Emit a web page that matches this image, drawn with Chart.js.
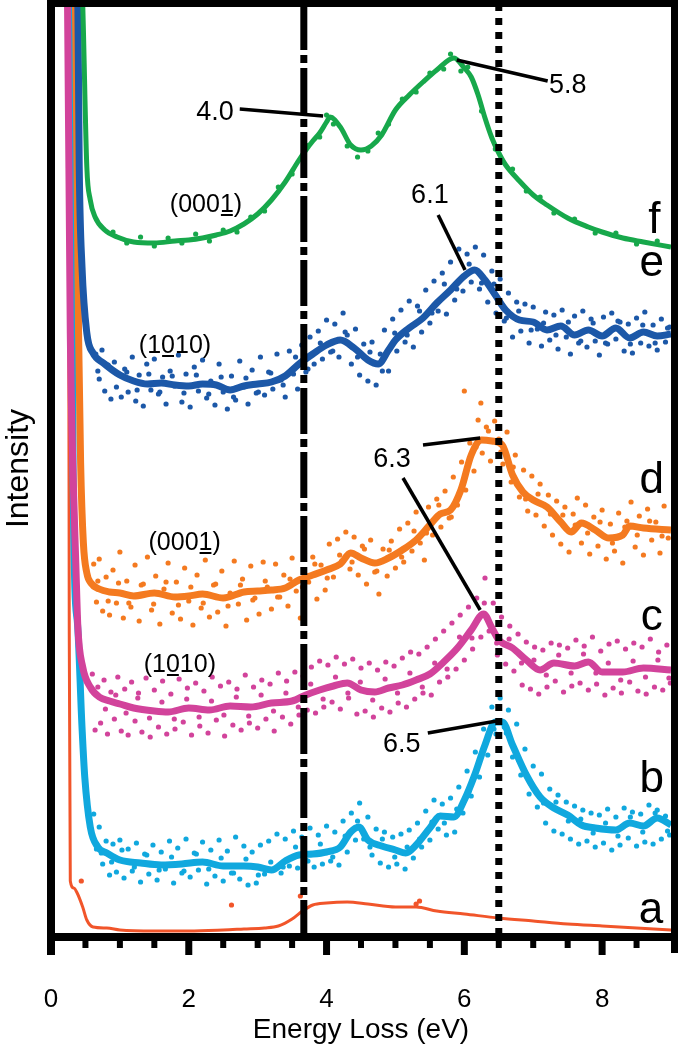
<!DOCTYPE html>
<html>
<head>
<meta charset="utf-8">
<script src="https://cdn.jsdelivr.net/npm/chart.js@4.4.1/dist/chart.umd.min.js"></script>
<style>
  html, body { margin: 0; padding: 0; background: #fff; }
  canvas { display: block; }
</style>
</head>
<body>
<canvas id="elsChart" width="678" height="1050"></canvas>
<script>
// ---- data (energy in eV, intensity in arbitrary offset units) ----
const xTicksMajor = [0, 2, 4, 6, 8];
const xTicksMinor = [0.5, 1, 1.5, 2.5, 3, 3.5, 4.5, 5, 5.5, 6.5, 7, 7.5, 8.5];
const referenceLines = [3.67, 6.5];

// f: green (0001)
const fE = [0.42,0.46,0.52,0.57,0.64,0.78,0.96,1.2,1.5,1.8,2.0,2.2,2.4,2.6,2.8,3.0,3.2,3.4,3.6,3.7,3.8,3.9,4.0,4.05,4.2,4.35,4.5,4.65,4.8,5.0,5.2,5.4,5.6,5.85,6.0,6.1,6.2,6.3,6.4,6.5,6.6,6.8,7.0,7.2,7.5,7.8,8.0,8.3,8.6,9.0];
const fI = [100,93,76.6,73.3,71.6,70.3,69.6,69.1,69.0,69.2,69.3,69.5,69.8,70.2,70.9,71.9,73.3,75.1,77.3,78.3,79.2,80.0,81.1,81.6,80.6,78.8,78.3,78.7,79.8,82.3,83.8,85.1,86.3,87.5,86.5,85.6,83.8,81.5,79.5,78.0,76.8,75.2,73.8,72.8,71.5,70.6,70.1,69.5,69.1,68.6];
const fDots = [[0.9,70.1],[1.1,69.0],[1.3,69.6],[1.5,68.7],[1.7,69.5],[1.9,69.0],[2.1,69.9],[2.3,69.2],[2.5,70.3],[2.7,70.1],[2.9,71.6],[3.1,72.2],[3.3,74.6],[3.5,75.9],[3.7,78.8],[3.9,79.6],[4.0,81.8],[4.1,80.9],[4.3,78.7],[4.45,77.6],[4.6,78.2],[4.75,80.0],[4.9,80.9],[5.1,83.4],[5.3,84.1],[5.5,86.0],[5.7,86.4],[5.8,87.9],[5.95,86.2],[6.05,86.6],[6.25,82.2],[6.45,78.4],[6.7,76.4],[6.9,74.2],[7.1,73.6],[7.3,72.0],[7.6,71.4],[7.9,70.0],[8.2,70.0],[8.5,68.9],[8.8,69.2]];

// e: blue (1010)
const eE = [0.37,0.39,0.41,0.45,0.52,0.61,0.76,1.0,1.2,1.4,1.6,1.8,2.0,2.2,2.4,2.6,2.8,3.0,3.2,3.4,3.6,3.8,4.0,4.2,4.4,4.6,4.75,4.9,5.0,5.2,5.4,5.6,5.8,6.0,6.15,6.3,6.45,6.6,6.8,7.0,7.2,7.4,7.6,7.8,8.0,8.2,8.4,8.6,8.8,9.0];
const eI = [100,93,76.6,66.6,60.0,58.0,57.0,55.8,55.2,54.9,55.0,54.8,54.7,54.9,54.8,54.3,54.7,54.9,55.1,55.7,56.9,57.9,58.8,59.3,58.5,57.3,56.9,58.3,59.3,60.5,61.5,63.0,64.3,65.7,66.3,65.3,63.8,62.3,61.3,61.1,60.3,60.7,59.8,60.3,59.7,60.5,59.5,60.1,59.7,59.9];
const eDots = [[0.65,57.9],[0.7,55.4],[0.74,58.3],[0.78,54.2],[0.83,56.8],[0.87,53.4],[0.92,57.1],[0.97,55.9],[1.02,53.6],[1.07,56.4],[1.12,54.1],[1.18,57.6],[1.23,53.2],[1.28,55.8],[1.34,52.7],[1.39,56.9],[1.45,54.3],[1.5,57.4],[1.56,53.9],[1.62,55.6],[1.67,52.9],[1.73,56.2],[1.79,54.7],[1.85,57.8],[1.9,53.1],[1.96,55.9],[2.02,52.6],[2.08,56.6],[2.14,54.2],[2.2,57.3],[2.26,53.5],[2.32,55.2],[2.38,52.8],[2.44,56.9],[2.5,54.1],[2.56,52.4],[2.62,55.7],[2.68,53.3],[2.74,57.2],[2.8,54.6],[2.86,52.9],[2.92,56.3],[2.98,54.0],[3.04,57.6],[3.1,53.8],[3.16,56.1],[3.22,54.4],[3.28,57.9],[3.34,55.3],[3.4,53.6],[3.46,58.2],[3.52,55.9],[3.58,54.4],[3.64,58.8],[3.7,56.1],[3.76,59.6],[3.82,56.9],[3.88,60.2],[3.94,57.4],[4.0,61.3],[4.06,58.1],[4.12,60.9],[4.18,57.6],[4.24,62.0],[4.3,59.8],[4.36,56.9],[4.42,60.4],[4.48,55.8],[4.54,58.9],[4.6,55.2],[4.66,59.1],[4.72,54.8],[4.78,57.9],[4.84,60.3],[4.9,56.2],[4.96,61.4],[5.02,58.2],[5.08,62.3],[5.14,59.1],[5.2,63.2],[5.26,58.6],[5.32,62.7],[5.38,60.1],[5.44,64.3],[5.5,61.0],[5.56,65.2],[5.62,62.2],[5.68,66.0],[5.74,61.9],[5.8,67.1],[5.86,63.3],[5.92,68.4],[5.98,64.2],[6.04,67.9],[6.1,65.1],[6.16,68.6],[6.22,64.4],[6.28,67.8],[6.34,63.1],[6.4,66.2],[6.46,62.0],[6.52,65.4],[6.58,61.2],[6.64,64.0],[6.7,59.6],[6.76,63.1],[6.82,60.2],[6.88,62.9],[6.94,59.0],[7.0,62.6],[7.06,60.4],[7.12,58.7],[7.18,62.1],[7.24,59.3],[7.3,61.8],[7.36,58.4],[7.42,62.3],[7.48,59.6],[7.54,57.9],[7.6,61.7],[7.66,59.0],[7.72,62.2],[7.78,58.6],[7.84,61.4],[7.9,59.2],[7.96,57.8],[8.02,61.6],[8.08,58.9],[8.14,62.0],[8.2,59.4],[8.26,61.1],[8.32,58.2],[8.38,60.9],[8.44,58.0],[8.5,61.5],[8.56,59.0],[8.62,62.1],[8.68,58.7],[8.74,60.8],[8.8,58.3],[8.86,61.4],[8.92,59.1],[8.98,60.6]];
const eDotsNear = [[0.68,56.2],[0.8,56.9],[0.95,54.6],[1.1,56.1],[1.25,54.3],[1.42,55.9],[1.58,54.1],[1.76,55.7],[1.93,54.0],[2.11,55.8],[2.29,53.9],[2.47,55.6],[2.65,53.6],[2.83,55.5],[3.01,54.1],[3.19,56.0],[3.37,54.8],[3.55,57.6],[3.73,56.4],[3.91,59.0],[4.09,58.2],[4.27,60.1],[4.45,57.6],[4.63,58.1],[4.81,56.2],[4.99,60.0],[5.17,59.8],[5.35,62.2],[5.53,62.0],[5.71,64.9],[5.89,64.4],[6.07,66.9],[6.25,65.0],[6.43,64.9],[6.61,61.5],[6.79,62.2],[6.97,60.3],[7.15,61.0],[7.33,59.8],[7.51,61.1],[7.69,59.2],[7.87,61.0],[8.05,59.0],[8.23,61.2],[8.41,58.9],[8.59,60.8],[8.77,59.0],[8.95,60.5]];

// d: orange (0001)
const dE = [0.34,0.36,0.4,0.43,0.47,0.52,0.58,0.7,0.85,1.0,1.2,1.5,1.8,2.0,2.2,2.5,2.8,3.0,3.2,3.4,3.6,3.8,4.0,4.2,4.35,4.5,4.7,4.9,5.1,5.3,5.5,5.65,5.8,5.95,6.1,6.25,6.4,6.55,6.7,6.85,7.0,7.2,7.4,7.55,7.7,7.9,8.1,8.3,8.4,8.6,9.0];
const dI = [100,90,60,47,39,36.0,35.0,34.4,34.1,34.0,33.7,34.0,33.6,33.7,33.9,33.5,34.1,34.2,34.3,34.5,35.3,35.8,36.3,36.9,38.0,37.5,37.0,37.5,38.3,39.3,40.8,41.9,42.3,44.3,47.8,49.3,49.2,48.8,45.8,44.1,43.3,42.6,41.1,40.1,41.0,40.3,39.5,39.8,40.7,40.5,40.3];
const dDots = [[0.62,36.9],[0.66,33.1],[0.7,37.4],[0.75,32.2],[0.8,35.6],[0.85,31.8],[0.9,36.3],[0.95,33.0],[1.0,38.1],[1.05,31.5],[1.1,35.2],[1.16,32.6],[1.22,36.8],[1.28,31.2],[1.34,34.9],[1.4,37.6],[1.46,32.3],[1.52,35.7],[1.58,30.9],[1.64,34.4],[1.7,37.0],[1.76,32.0],[1.82,35.1],[1.88,31.4],[1.94,36.5],[2.0,33.2],[2.06,30.8],[2.12,35.8],[2.18,32.5],[2.24,37.3],[2.3,31.6],[2.36,34.8],[2.42,32.1],[2.48,36.2],[2.54,30.7],[2.6,34.0],[2.66,37.2],[2.72,32.9],[2.78,35.4],[2.84,31.3],[2.9,36.7],[2.96,33.5],[3.02,31.9],[3.08,37.1],[3.14,34.6],[3.2,32.4],[3.26,36.9],[3.32,33.6],[3.38,35.8],[3.44,32.7],[3.5,37.5],[3.56,34.2],[3.62,31.5],[3.68,38.0],[3.74,35.1],[3.8,37.6],[3.86,33.4],[3.92,36.8],[3.98,34.3],[4.04,38.9],[4.1,35.6],[4.16,39.4],[4.22,37.2],[4.28,40.1],[4.34,36.4],[4.4,39.6],[4.46,35.8],[4.52,38.7],[4.58,34.9],[4.64,39.3],[4.7,36.1],[4.76,33.9],[4.82,38.4],[4.88,35.7],[4.94,39.2],[5.0,36.5],[5.06,40.4],[5.12,37.1],[5.18,41.0],[5.24,38.2],[5.3,42.1],[5.36,39.0],[5.42,37.3],[5.48,42.6],[5.54,39.8],[5.6,43.4],[5.66,40.6],[5.72,44.2],[5.78,41.5],[5.84,45.6],[5.9,42.8],[5.96,47.1],[6.0,54.2],[6.02,44.3],[6.08,49.0],[6.14,46.2],[6.2,51.3],[6.24,53.0],[6.26,48.0],[6.32,50.6],[6.38,47.2],[6.44,51.2],[6.5,49.4],[6.56,46.9],[6.62,50.1],[6.68,45.1],[6.74,47.8],[6.8,43.6],[6.86,46.3],[6.92,42.2],[6.98,45.7],[7.04,41.8],[7.1,44.9],[7.16,40.7],[7.22,43.8],[7.28,39.8],[7.34,43.2],[7.4,38.9],[7.46,42.6],[7.52,38.1],[7.58,41.9],[7.64,43.5],[7.7,39.0],[7.76,42.8],[7.82,37.9],[7.88,41.6],[7.94,38.7],[8.0,42.3],[8.06,37.4],[8.12,40.9],[8.18,38.2],[8.24,42.0],[8.3,37.0],[8.36,41.2],[8.42,43.1],[8.48,38.6],[8.54,41.7],[8.6,37.8],[8.66,42.4],[8.72,39.3],[8.78,41.1],[8.84,38.0],[8.9,42.7],[8.96,39.5]];
const dDotsNear = [[0.68,35.2],[0.83,33.2],[0.98,35.0],[1.13,33.0],[1.31,34.8],[1.49,32.9],[1.67,35.1],[1.85,32.8],[2.03,34.6],[2.21,33.0],[2.39,34.9],[2.57,32.7],[2.75,34.8],[2.93,33.3],[3.11,35.2],[3.29,33.6],[3.47,35.4],[3.65,34.6],[3.83,36.9],[4.01,35.5],[4.19,37.8],[4.37,37.1],[4.55,38.4],[4.73,36.2],[4.91,38.3],[5.09,37.6],[5.27,40.2],[5.45,40.0],[5.63,42.8],[5.81,41.6],[5.99,45.2],[6.17,48.6],[6.35,50.2],[6.53,48.1],[6.71,46.6],[6.89,43.4],[7.07,43.9],[7.25,41.9],[7.43,41.8],[7.61,40.8],[7.79,40.0],[7.97,41.1],[8.15,39.0],[8.33,40.6],[8.51,39.8],[8.69,41.2],[8.87,39.7]];

// c: magenta (1010)
const cE = [0.22,0.24,0.28,0.32,0.36,0.39,0.46,0.57,0.7,0.85,1.0,1.2,1.5,1.7,2.0,2.3,2.6,2.9,3.2,3.5,3.7,3.9,4.1,4.3,4.5,4.7,4.9,5.1,5.3,5.5,5.7,5.9,6.1,6.28,6.4,6.5,6.7,6.9,7.1,7.3,7.6,7.8,8.0,8.3,8.6,9.0];
const cI = [100,93,60,46,37,30.6,26.6,24.6,23.6,23.2,22.9,22.5,22.2,22.1,22.5,22.3,22.7,22.6,23.0,23.2,23.8,24.3,24.7,25.0,24.3,24.1,24.5,24.8,25.3,25.9,27.1,28.5,30.3,31.9,30.5,29.3,28.5,27.3,26.3,27.0,26.7,27.1,26.1,26.1,26.5,26.3];
const cDots = [[0.6,25.9],[0.64,20.3],[0.68,24.6],[0.72,21.0],[0.77,25.3],[0.82,19.9],[0.87,24.1],[0.92,21.4],[0.97,25.6],[1.02,20.2],[1.07,24.4],[1.12,19.8],[1.17,25.1],[1.22,21.2],[1.27,24.0],[1.32,20.1],[1.38,25.5],[1.44,19.6],[1.5,24.3],[1.56,20.6],[1.62,25.2],[1.68,19.9],[1.74,23.9],[1.8,20.4],[1.86,25.4],[1.92,21.1],[1.98,24.5],[2.04,19.8],[2.1,25.0],[2.16,20.7],[2.22,24.2],[2.28,20.0],[2.34,25.6],[2.4,21.3],[2.46,24.7],[2.52,19.7],[2.58,25.1],[2.64,20.8],[2.7,24.4],[2.76,20.3],[2.82,25.8],[2.88,21.0],[2.94,24.6],[3.0,20.5],[3.06,25.3],[3.12,21.4],[3.18,24.9],[3.24,20.2],[3.3,26.0],[3.36,21.6],[3.42,25.2],[3.48,20.9],[3.54,26.1],[3.6,21.8],[3.66,25.7],[3.72,22.3],[3.78,26.6],[3.84,22.0],[3.9,27.2],[3.96,22.6],[4.02,26.8],[4.08,23.1],[4.14,27.6],[4.2,22.4],[4.26,26.9],[4.32,23.5],[4.38,27.4],[4.44,21.9],[4.5,26.5],[4.56,22.2],[4.62,27.0],[4.68,21.6],[4.74,26.3],[4.8,22.5],[4.86,27.1],[4.92,22.1],[4.98,26.7],[5.04,23.0],[5.1,27.5],[5.16,22.6],[5.22,28.1],[5.28,23.4],[5.34,27.9],[5.4,24.0],[5.46,28.6],[5.52,23.8],[5.58,29.4],[5.64,25.1],[5.7,30.2],[5.76,25.6],[5.82,31.0],[5.88,26.4],[5.94,31.8],[6.0,27.3],[6.06,32.6],[6.12,28.4],[6.18,33.5],[6.24,29.6],[6.3,35.5],[6.36,30.2],[6.42,33.0],[6.48,27.8],[6.54,31.6],[6.6,26.9],[6.66,30.7],[6.72,26.2],[6.78,29.9],[6.84,24.8],[6.9,29.1],[6.96,24.4],[7.02,28.6],[7.08,23.9],[7.14,28.3],[7.2,24.6],[7.26,29.0],[7.32,25.2],[7.38,28.8],[7.44,24.1],[7.5,28.5],[7.56,24.7],[7.62,29.3],[7.68,25.0],[7.74,28.7],[7.8,24.3],[7.86,29.6],[7.92,24.9],[7.98,28.2],[8.04,23.8],[8.1,28.9],[8.16,24.5],[8.22,29.2],[8.28,24.0],[8.34,28.4],[8.4,25.1],[8.46,29.0],[8.52,24.2],[8.58,28.6],[8.64,23.9],[8.7,29.4],[8.76,24.6],[8.82,28.1],[8.88,24.3],[8.94,28.8],[8.99,25.0]];
const cDotsNear = [[0.66,23.9],[0.79,22.4],[0.94,23.8],[1.09,22.0],[1.26,23.5],[1.43,21.5],[1.61,23.1],[1.79,21.4],[1.97,23.4],[2.15,21.6],[2.33,23.2],[2.51,21.8],[2.69,23.6],[2.87,21.7],[3.05,23.8],[3.23,22.2],[3.41,24.0],[3.59,22.6],[3.77,24.9],[3.95,23.4],[4.13,25.6],[4.31,24.0],[4.49,25.1],[4.67,23.3],[4.85,25.4],[5.03,24.0],[5.21,26.0],[5.39,24.6],[5.57,27.0],[5.75,26.4],[5.93,29.6],[6.11,29.5],[6.29,33.0],[6.47,29.0],[6.65,29.4],[6.83,27.0],[7.01,27.3],[7.19,25.8],[7.37,27.8],[7.55,26.0],[7.73,27.9],[7.91,26.0],[8.09,27.0],[8.27,25.3],[8.45,27.2],[8.63,25.6],[8.81,27.3],[8.97,25.5]];

// b: cyan
const bE = [0.29,0.31,0.32,0.38,0.45,0.49,0.57,0.68,0.81,1.0,1.3,1.6,1.9,2.2,2.5,2.8,3.0,3.2,3.4,3.6,3.8,4.0,4.2,4.35,4.47,4.6,4.8,5.0,5.15,5.3,5.5,5.65,5.85,6.0,6.15,6.3,6.45,6.55,6.7,6.9,7.1,7.3,7.5,7.7,7.9,8.2,8.4,8.6,8.8,9.0];
const bI = [100,93,46.8,31.3,20.6,15.6,10.6,8.6,8.0,7.3,7.0,6.8,6.9,7.1,6.7,6.7,6.6,6.3,7.2,7.8,7.9,8.1,8.6,10.1,10.6,9.3,8.7,8.3,8.0,8.8,10.5,11.7,11.6,13.3,15.8,18.8,21.1,21.1,18.8,15.8,13.6,12.5,11.8,10.8,10.5,10.3,11.0,10.7,11.5,10.8];
const bDots = [[0.62,11.9],[0.66,8.4],[0.7,10.6],[0.75,6.9],[0.8,9.2],[0.85,5.8],[0.9,8.9],[0.95,6.1],[1.0,9.3],[1.06,5.5],[1.12,8.4],[1.18,6.2],[1.24,9.0],[1.3,5.1],[1.36,7.9],[1.42,5.9],[1.48,8.8],[1.54,5.3],[1.6,8.1],[1.66,6.4],[1.72,9.2],[1.78,5.0],[1.84,8.5],[1.9,6.0],[1.96,9.4],[2.02,5.6],[2.08,8.0],[2.14,6.3],[2.2,9.1],[2.26,4.9],[2.32,8.3],[2.38,5.7],[2.44,9.3],[2.5,5.2],[2.56,8.2],[2.62,6.0],[2.68,9.6],[2.74,5.4],[2.8,8.7],[2.86,4.8],[2.92,8.1],[2.98,5.0],[3.04,8.8],[3.1,5.9],[3.16,9.2],[3.22,6.3],[3.28,9.9],[3.34,6.0],[3.4,9.4],[3.46,6.7],[3.52,10.2],[3.58,6.5],[3.64,9.6],[3.7,7.3],[3.76,10.5],[3.82,6.6],[3.88,9.8],[3.94,6.9],[4.0,10.7],[4.06,7.2],[4.12,10.1],[4.18,6.8],[4.24,11.2],[4.3,8.1],[4.36,12.0],[4.42,9.3],[4.48,13.0],[4.54,9.4],[4.6,11.6],[4.66,7.8],[4.72,10.4],[4.78,7.0],[4.84,10.1],[4.9,6.6],[4.96,9.6],[5.02,6.9],[5.08,9.9],[5.14,6.4],[5.2,10.3],[5.26,7.5],[5.32,11.0],[5.38,8.6],[5.44,12.2],[5.5,9.3],[5.56,13.3],[5.62,10.4],[5.68,12.9],[5.74,9.8],[5.8,13.5],[5.86,10.1],[5.92,14.6],[5.98,12.0],[6.04,16.2],[6.1,13.7],[6.16,18.1],[6.22,15.6],[6.28,20.4],[6.34,17.8],[6.4,22.6],[6.46,19.9],[6.52,23.5],[6.58,20.6],[6.64,22.3],[6.7,17.6],[6.76,20.9],[6.82,15.8],[6.88,18.4],[6.94,13.9],[7.0,16.7],[7.06,12.6],[7.12,15.9],[7.18,11.0],[7.24,14.4],[7.3,10.2],[7.36,13.8],[7.42,9.9],[7.48,13.1],[7.54,9.4],[7.6,12.7],[7.66,8.9],[7.72,12.3],[7.78,9.2],[7.84,12.0],[7.9,8.6],[7.96,11.8],[8.02,9.0],[8.08,12.4],[8.14,8.3],[8.2,11.6],[8.26,8.8],[8.32,12.5],[8.38,9.5],[8.44,12.1],[8.5,8.7],[8.56,11.9],[8.62,9.1],[8.68,12.8],[8.74,8.9],[8.8,12.3],[8.86,9.4],[8.92,11.7],[8.98,9.8]];
const bDotsNear = [[0.73,8.0],[0.88,7.1],[1.03,8.3],[1.21,6.6],[1.39,7.8],[1.57,6.3],[1.75,7.6],[1.93,6.2],[2.11,7.9],[2.29,6.4],[2.47,7.5],[2.65,6.0],[2.83,7.4],[3.01,5.8],[3.19,7.1],[3.37,6.6],[3.55,8.6],[3.73,7.2],[3.91,8.9],[4.09,7.6],[4.27,9.7],[4.45,11.2],[4.63,8.6],[4.81,9.4],[4.99,7.6],[5.17,8.6],[5.35,9.4],[5.53,11.1],[5.71,11.0],[5.89,12.4],[6.07,14.2],[6.25,17.9],[6.43,20.4],[6.61,20.0],[6.79,17.3],[6.97,14.9],[7.15,13.0],[7.33,13.1],[7.51,11.2],[7.69,11.4],[7.87,10.0],[8.05,11.0],[8.23,9.7],[8.41,11.6],[8.59,10.1],[8.77,12.0],[8.95,10.2]];

// a: red
const aE = [0.25,0.265,0.28,0.33,0.38,0.46,0.52,0.61,0.81,1.0,1.5,2.0,2.5,2.8,3.1,3.3,3.5,3.65,3.8,4.0,4.3,4.6,5.0,5.3,5.6,6.0,6.5,7.0,7.5,8.0,8.5,9.0];
const aI = [100,30,5.2,4.5,4.0,2.6,1.3,0.6,0.5,0.3,0.2,0.2,0.3,0.4,0.5,0.7,1.4,2.2,2.8,3.0,3.1,2.9,2.6,2.6,2.2,1.9,1.5,1.2,0.9,0.7,0.5,0.3];
const aDots = [[2.62,2.8],[3.62,3.7],[5.35,3.2],[0.44,5.2],[5.3,2.9]];

// ---- styling ----
const FONT = "'Liberation Sans', Arial, Helvetica, sans-serif";
const colors = { f: '#17a84b', e: '#1c58a8', d: '#f47a20', c: '#d2439b', b: '#10a8de', a: '#f1552a' };

function pairs(xs, ys) { return xs.map((x, i) => ({ x: x, y: ys[i] })); }
function pts(list) { return list.map(p => ({ x: p[0], y: p[1] })); }

function lineSet(xs, ys, color, width) {
    return { data: pairs(xs, ys), borderColor: color, borderWidth: width, pointRadius: 0,
             cubicInterpolationMode: 'monotone', fill: false };
}
function dotSet(list, color) {
    return { data: pts(list), showLine: false, pointRadius: 2.6, pointBorderWidth: 0,
             pointBackgroundColor: color, borderColor: color };
}

// annotation layout (data coordinates)
const valueLabels = [
    { text: '4.0', x: 2.38, y: 81.3, line: [2.74, 82.4, 3.95, 81.7] },
    { text: '5.8', x: 7.50, y: 84.0, line: [5.89, 87.3, 7.21, 85.2] },
    { text: '6.1', x: 5.50, y: 73.0, line: [5.62, 71.8, 6.01, 66.3] },
    { text: '6.3', x: 4.95, y: 46.6, line: [5.40, 48.8, 6.23, 49.5] },
    { text: '', x: 0, y: 0, line: [5.11, 45.5, 6.23, 32.3] },
    { text: '6.5', x: 5.09, y: 18.1, line: [5.47, 20.0, 6.47, 21.2] }
];
const curveLetters = [['f', 8.76, 70.0], ['e', 8.72, 65.7], ['d', 8.72, 44.0], ['c', 8.72, 30.3], ['b', 8.72, 14.1], ['a', 8.71, 1.0]];
const planeLabels = [['(0001)', 4, 2.25, 72.1], ['(1010)', 2, 1.80, 58.0], ['(0001)', 4, 1.94, 38.3], ['(1010)', 2, 1.87, 26.1]];

const decorPlugin = {
    id: 'decor',
    afterDatasetsDraw(chart) {
        const ctx = chart.ctx;
        const xs = chart.scales.x;
        const { top, bottom } = chart.chartArea;
        ctx.save();
        ctx.strokeStyle = '#000';
        ctx.lineWidth = 7;
        referenceLines.forEach((v, i) => {
            const px = xs.getPixelForValue(v);
            ctx.setLineDash(i === 0 ? [46, 5, 8, 5] : [7, 7]);
            ctx.beginPath();
            ctx.moveTo(px, top);
            ctx.lineTo(px, bottom);
            ctx.stroke();
        });
        ctx.setLineDash([]);
        ctx.restore();
    },
    afterDraw(chart) {
        const ctx = chart.ctx;
        const xs = chart.scales.x, ys = chart.scales.y;
        const { left, right, bottom } = chart.chartArea;
        ctx.save();
        ctx.fillStyle = '#000';
        // frame
        ctx.fillRect(left - 4, 0, 8, bottom + 22);
        ctx.fillRect(right, 0, 7, bottom + 20);
        ctx.fillRect(left - 4, 0, right + 7 - (left - 4), 7);
        ctx.fillRect(left - 4, bottom, right + 7 - (left - 4), 8);
        // tick marks
        xTicksMajor.forEach(v => {
            const px = xs.getPixelForValue(v);
            ctx.fillRect(px - 3.5, bottom, 7, 22);
        });
        xTicksMinor.forEach(v => {
            const px = xs.getPixelForValue(v);
            ctx.fillRect(px - 3, bottom, 6, 15);
        });

        // leader lines + value labels
        ctx.strokeStyle = '#000';
        ctx.lineWidth = 3.5;
        ctx.font = '27px ' + FONT;
        ctx.textAlign = 'center';
        ctx.textBaseline = 'alphabetic';
        valueLabels.forEach(l => {
            ctx.beginPath();
            ctx.moveTo(xs.getPixelForValue(l.line[0]), ys.getPixelForValue(l.line[1]));
            ctx.lineTo(xs.getPixelForValue(l.line[2]), ys.getPixelForValue(l.line[3]));
            ctx.stroke();
            if (l.text) ctx.fillText(l.text, xs.getPixelForValue(l.x), ys.getPixelForValue(l.y));
        });

        // curve letters
        ctx.font = '44px ' + FONT;
        curveLetters.forEach(c => ctx.fillText(c[0], xs.getPixelForValue(c[1]), ys.getPixelForValue(c[2])));

        // crystal plane labels with underlined digit
        ctx.font = '25px ' + FONT;
        ctx.textAlign = 'left';
        ctx.lineWidth = 2;
        planeLabels.forEach(p => {
            const text = p[0], idx = p[1];
            const w = ctx.measureText(text).width;
            const x0 = xs.getPixelForValue(p[2]) - w / 2;
            const y0 = ys.getPixelForValue(p[3]);
            ctx.fillText(text, x0, y0);
            const ux = x0 + ctx.measureText(text.slice(0, idx)).width;
            const uw = ctx.measureText(text[idx]).width;
            ctx.beginPath();
            ctx.moveTo(ux + 1, y0 + 3);
            ctx.lineTo(ux + uw - 1, y0 + 3);
            ctx.stroke();
        });
        ctx.restore();
    }
};

const ctx = document.getElementById('elsChart');

new Chart(ctx, {
    type: 'line',
    data: {
        datasets: [
            lineSet(fE, fI, colors.f, 5),
            lineSet(eE, eI, colors.e, 7),
            lineSet(dE, dI, colors.d, 7),
            lineSet(cE, cI, colors.c, 7),
            lineSet(bE, bI, colors.b, 7),
            lineSet(aE, aI, colors.a, 3),
            dotSet(fDots, colors.f),
            dotSet(eDots, colors.e),
            dotSet(eDotsNear, colors.e),
            dotSet(dDots, colors.d),
            dotSet(dDotsNear, colors.d),
            dotSet(cDots, colors.c),
            dotSet(cDotsNear, colors.c),
            dotSet(bDots, colors.b),
            dotSet(bDotsNear, colors.b),
            dotSet(aDots, colors.a)
        ]
    },
    options: {
        responsive: false,
        animation: false,
        layout: { padding: { top: 4, right: 7, left: 0, bottom: 0 } },
        plugins: { legend: { display: false }, tooltip: { enabled: false } },
        scales: {
            x: {
                type: 'linear', min: 0, max: 9,
                grid: { display: false, drawTicks: false },
                border: { display: false },
                ticks: { stepSize: 2, includeBounds: false, padding: 51, color: '#000',
                         font: { family: FONT, size: 26 }, maxRotation: 0 },
                title: { display: true, text: 'Energy Loss (eV)', color: '#000',
                         font: { family: FONT, size: 28 }, padding: { top: 0, bottom: 3 } },
                afterFit: s => { s.height = 117; s.paddingLeft = 0; s.paddingRight = 0; }
            },
            y: {
                min: 0, max: 92.9,
                grid: { display: false, drawTicks: false },
                border: { display: false },
                ticks: { display: false },
                title: { display: true, text: 'Intensity', color: '#000',
                         font: { family: FONT, size: 32 }, padding: 0 },
                afterFit: s => { s.width = 51; s.paddingTop = 0; s.paddingBottom = 0; }
            }
        }
    },
    plugins: [decorPlugin]
});
</script>
</body>
</html>
